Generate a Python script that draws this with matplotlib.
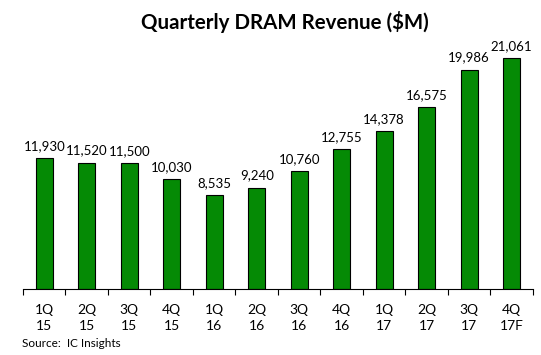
import matplotlib
matplotlib.use("Agg")
import matplotlib.pyplot as plt
import numpy as np

plt.rcParams['font.family'] = ['Lato', 'DejaVu Sans']

quarters = ["1Q\n15", "2Q\n15", "3Q\n15", "4Q\n15", "1Q\n16", "2Q\n16",
            "3Q\n16", "4Q\n16", "1Q\n17", "2Q\n17", "3Q\n17", "4Q\n17F"]
revenue = [11930, 11520, 11500, 10030, 8535, 9240,
           10760, 12755, 14378, 16575, 19986, 21061]

fig = plt.figure(figsize=(5.41, 3.55), dpi=100)
ax = fig.add_axes([0.0425, 0.186, 0.9425, 0.742])

x = np.arange(len(revenue))
ax.bar(x, revenue, width=0.4, color="#058a05", edgecolor="black", linewidth=0.8)

for xi, v in zip(x, revenue):
    ax.text(xi, v + 550, f"{v:,}", ha="center", va="bottom", fontsize=9.5)

ax.set_xlim(-0.5, len(revenue) - 0.5)
ax.set_ylim(0, 24000)
ax.set_xticks(x)
ax.set_xticklabels(quarters, fontsize=10, linespacing=1.35)
ax.set_xticks(np.arange(-0.5, len(revenue)), minor=True)
ax.tick_params(axis="x", which="major", length=0, pad=11)
ax.tick_params(axis="x", which="minor", length=4, direction="out", width=0.8)
ax.set_yticks([])
for s in ["left", "right", "top"]:
    ax.spines[s].set_visible(False)
ax.spines["bottom"].set_linewidth(0.8)

fig.text(0.527, 0.938, "Quarterly DRAM Revenue ($M)", ha="center", va="center",
         fontsize=14.8, fontweight="bold")
fig.text(0.04, 0.033, "Source:  IC Insights", ha="left", va="center", fontsize=8.5)

fig.savefig("out.png", dpi=100)
